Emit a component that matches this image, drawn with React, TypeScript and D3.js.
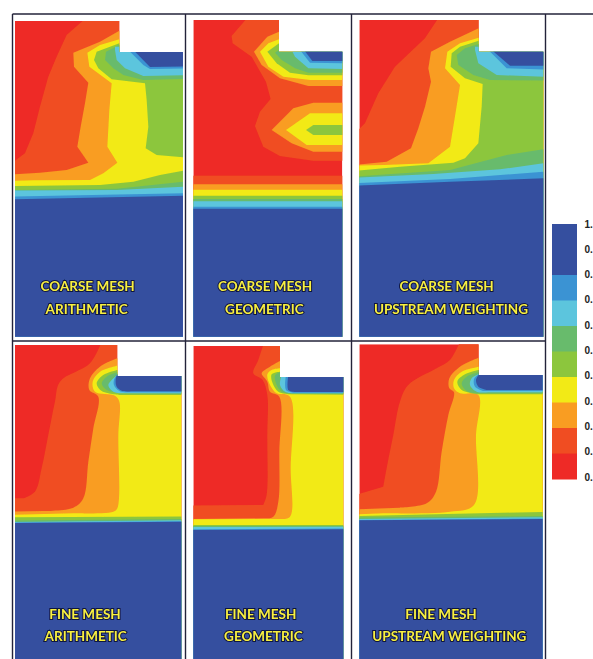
import React from "react";
import * as d3lib from "d3";

type Pt = [number, number];
type Region = [number, Pt[]];

// colour bands, from value 0.0 (red) to 1.0 (deep blue)
const bandColors = ["#ee2c25", "#f04e24", "#f99d20", "#f2ea14", "#8cc63e", "#68bb6c", "#5cc5dd", "#3b93d3", "#35509f"];
const legendValues = ["1.", "0.", "0.", "0.", "0.", "0.", "0.", "0.", "0.", "0.", "0."];
const legendBandIndex = [8, 8, 7, 6, 5, 4, 3, 2, 1, 0];

// Contour regions per panel (band index, boundary in grid units of 1/3 px)
const coarseArithmetic: Region[] = [
  [1, [[248, 63], [200, 105], [170, 170], [145, 230], [120, 320], [100, 400], [75, 460], [45, 482], [20, 482], [20, 1030], [620, 1030], [620, 63]]],
  [2, [[358, 92], [300, 125], [220, 158], [222, 200], [265, 248], [255, 310], [242, 380], [232, 440], [265, 488], [200, 510], [120, 518], [45, 523], [20, 523], [20, 1030], [620, 1030], [620, 92]]],
  [3, [[358, 118], [300, 135], [262, 158], [268, 200], [335, 250], [328, 330], [322, 440], [352, 488], [310, 520], [270, 540], [100, 541], [20, 543], [20, 1030], [620, 1030], [620, 118]]],
  [4, [[358, 130], [290, 155], [282, 180], [295, 205], [335, 238], [435, 250], [440, 300], [445, 380], [437, 445], [470, 465], [549, 472], [620, 472], [620, 130]]],
  [4, [[20, 558], [300, 555], [400, 545], [480, 525], [549, 512], [620, 512], [620, 1030], [20, 1030]]],
  [5, [[358, 135], [318, 155], [315, 180], [340, 205], [370, 225], [430, 240], [620, 235], [620, 135]]],
  [5, [[20, 570], [350, 566], [549, 545], [620, 545], [620, 1030], [20, 1030]]],
  [6, [[345, 150], [350, 180], [375, 205], [430, 228], [620, 225], [620, 140], [345, 140]]],
  [6, [[20, 572], [350, 570], [549, 560], [620, 560], [620, 1030], [20, 1030]]],
  [7, [[385, 150], [430, 195], [450, 207], [620, 205], [620, 140], [385, 140]]],
  [7, [[20, 590], [549, 580], [620, 580], [620, 1030], [20, 1030]]],
  [8, [[400, 150], [450, 201], [620, 198], [620, 140], [400, 140]]],
  [8, [[20, 598], [549, 587], [620, 587], [620, 1030], [20, 1030]]],
];

const coarseGeometric: Region[] = [
  [1, [[205, 50], [155, 108], [158, 130], [215, 170], [258, 245], [272, 297], [240, 335], [225, 378], [250, 440], [300, 468], [400, 482], [520, 482], [520, 50]]],
  [1, [[20, 527], [520, 527], [520, 1030], [20, 1030]]],
  [2, [[297, 95], [262, 110], [222, 155], [245, 195], [300, 235], [385, 258], [520, 258], [520, 95]]],
  [2, [[520, 308], [400, 308], [340, 325], [275, 390], [335, 430], [400, 455], [520, 455]]],
  [2, [[20, 553], [520, 553], [520, 1030], [20, 1030]]],
  [3, [[297, 118], [265, 130], [240, 155], [265, 200], [310, 230], [390, 240], [520, 240], [520, 118]]],
  [3, [[520, 340], [390, 340], [318, 390], [380, 435], [520, 435]]],
  [3, [[20, 569], [520, 569], [520, 1030], [20, 1030]]],
  [4, [[297, 130], [262, 155], [290, 190], [330, 218], [385, 226], [520, 226], [520, 130]]],
  [4, [[520, 375], [400, 375], [378, 390], [400, 405], [520, 405]]],
  [4, [[20, 587], [520, 587], [520, 1030], [20, 1030]]],
  [5, [[297, 150], [285, 158], [305, 180], [345, 205], [385, 218], [520, 218], [520, 150]]],
  [5, [[20, 597], [520, 597], [520, 1030], [20, 1030]]],
  [6, [[335, 150], [345, 170], [385, 205], [520, 208], [520, 140], [335, 140]]],
  [6, [[20, 604], [520, 604], [520, 1030], [20, 1030]]],
  [7, [[360, 150], [390, 188], [520, 190], [520, 140], [360, 140]]],
  [7, [[20, 620], [520, 620], [520, 1030], [20, 1030]]],
  [8, [[372, 150], [397, 183], [520, 183], [520, 140], [372, 140]]],
  [8, [[20, 626], [520, 626], [520, 1030], [20, 1030]]],
];

const coarseUpstream: Region[] = [
  [1, [[268, 50], [225, 115], [135, 200], [85, 280], [45, 370], [10, 405], [10, 1030], [620, 1030], [620, 50]]],
  [2, [[386, 85], [300, 125], [243, 155], [235, 205], [243, 245], [225, 320], [205, 385], [183, 445], [110, 485], [10, 495], [10, 1030], [620, 1030], [620, 85]]],
  [3, [[386, 113], [330, 130], [292, 155], [285, 205], [330, 255], [318, 330], [300, 440], [235, 490], [100, 495], [10, 497], [10, 1030], [620, 1030], [620, 113]]],
  [4, [[386, 122], [330, 140], [305, 160], [302, 200], [345, 235], [398, 252], [395, 320], [385, 430], [345, 475], [310, 488], [150, 500], [10, 513], [10, 1030], [620, 1030], [620, 122]]],
  [5, [[386, 132], [345, 145], [320, 165], [325, 195], [370, 225], [420, 240], [620, 242], [620, 132]]],
  [5, [[10, 530], [300, 510], [470, 465], [580, 448], [620, 445], [620, 1030], [10, 1030]]],
  [6, [[375, 150], [385, 190], [440, 225], [620, 232], [620, 140], [375, 140]]],
  [6, [[10, 533], [250, 522], [450, 508], [580, 490], [620, 488], [620, 1030], [10, 1030]]],
  [7, [[415, 150], [470, 205], [620, 210], [620, 140], [415, 140]]],
  [7, [[10, 550], [300, 537], [580, 515], [620, 513], [620, 1030], [10, 1030]]],
  [8, [[425, 150], [480, 197], [620, 197], [620, 140], [425, 140]]],
  [8, [[10, 557], [300, 545], [580, 535], [620, 533], [620, 1030], [10, 1030]]],
];

const fineArithmetic: Region[] = [
  [1, [[305, 20], [270, 85], [180, 140], [165, 200], [145, 300], [125, 400], [105, 470], [70, 490], [20, 490], [20, 1030], [620, 1030], [620, 20]]],
  [2, [[352, 70], [300, 95], [270, 130], [268, 165], [295, 185], [280, 280], [265, 380], [250, 490], [220, 518], [130, 528], [20, 530], [20, 1030], [620, 1030], [620, 70]]],
  [3, [[352, 92], [300, 110], [278, 140], [285, 170], [345, 182], [358, 200], [355, 300], [352, 520], [340, 530], [220, 535], [20, 540], [20, 1030], [620, 1030], [620, 92]]],
  [4, [[352, 105], [310, 120], [290, 145], [305, 168], [360, 180], [620, 180], [620, 105]]],
  [4, [[20, 547], [350, 546], [620, 544], [620, 1030], [20, 1030]]],
  [5, [[352, 112], [320, 125], [305, 145], [320, 165], [370, 175], [620, 178], [620, 112]]],
  [5, [[20, 557], [620, 551], [620, 1030], [20, 1030]]],
  [6, [[352, 120], [335, 135], [325, 150], [340, 170], [380, 175], [620, 175], [620, 120]]],
  [6, [[20, 561], [620, 555], [620, 1030], [20, 1030]]],
  [7, [[352, 118], [342, 135], [342, 150], [358, 168], [400, 172], [620, 172], [620, 118]]],
  [7, [[20, 563], [620, 558], [620, 1030], [20, 1030]]],
  [8, [[352, 118], [347, 135], [350, 155], [365, 167], [400, 169], [620, 169], [620, 118]]],
  [8, [[20, 564], [620, 560], [620, 1030], [20, 1030]]],
];

const fineGeometric: Region[] = [
  [1, [[253, 20], [235, 75], [220, 115], [248, 135], [262, 180], [262, 300], [260, 480], [250, 510], [20, 512], [20, 1030], [620, 1030], [620, 20]]],
  [2, [[300, 78], [270, 95], [245, 115], [262, 140], [270, 170], [298, 185], [298, 350], [295, 500], [280, 545], [250, 550], [20, 552], [20, 1030], [620, 1030], [620, 78]]],
  [3, [[300, 100], [275, 105], [262, 118], [270, 150], [290, 175], [330, 185], [332, 400], [330, 545], [300, 552], [20, 553], [20, 1030], [620, 1030], [620, 100]]],
  [4, [[300, 110], [275, 118], [278, 145], [295, 170], [330, 178], [620, 180], [620, 110]]],
  [4, [[20, 570], [330, 571], [620, 570], [620, 1030], [20, 1030]]],
  [5, [[300, 112], [285, 122], [290, 150], [305, 170], [340, 176], [620, 178], [620, 112]]],
  [5, [[20, 573], [620, 573], [620, 1030], [20, 1030]]],
  [6, [[305, 120], [300, 150], [315, 170], [340, 175], [620, 175], [620, 120]]],
  [6, [[20, 576], [335, 575], [620, 575], [620, 1030], [20, 1030]]],
  [7, [[318, 120], [318, 165], [340, 173], [620, 173], [620, 120]]],
  [7, [[20, 583], [330, 582], [620, 580], [620, 1030], [20, 1030]]],
  [8, [[325, 120], [325, 165], [345, 171], [620, 171], [620, 120], [325, 120]]],
  [8, [[20, 585], [330, 584], [620, 582], [620, 1030], [20, 1030]]],
];

const fineUpstream: Region[] = [
  [1, [[330, 20], [300, 75], [260, 100], [175, 150], [150, 200], [130, 300], [110, 400], [100, 455], [10, 482], [10, 1030], [620, 1030], [620, 20]]],
  [2, [[386, 68], [330, 95], [298, 130], [298, 160], [312, 172], [295, 240], [275, 350], [258, 470], [230, 505], [150, 518], [10, 523], [10, 1030], [620, 1030], [620, 68]]],
  [3, [[386, 95], [335, 110], [312, 135], [312, 160], [330, 175], [385, 180], [378, 300], [372, 510], [300, 530], [100, 535], [10, 538], [10, 1030], [620, 1030], [620, 95]]],
  [4, [[386, 105], [345, 118], [322, 140], [335, 165], [385, 178], [620, 178], [620, 105]]],
  [4, [[10, 543], [300, 538], [620, 530], [620, 1030], [10, 1030]]],
  [5, [[386, 112], [350, 125], [335, 145], [350, 168], [390, 175], [620, 175], [620, 112]]],
  [5, [[10, 548], [300, 546], [620, 543], [620, 1030], [10, 1030]]],
  [6, [[386, 118], [365, 130], [360, 150], [380, 170], [420, 172], [620, 172], [620, 118]]],
  [6, [[10, 552], [620, 546], [620, 1030], [10, 1030]]],
  [7, [[386, 118], [372, 133], [375, 155], [400, 168], [620, 168], [620, 118]]],
  [7, [[10, 555], [620, 550], [620, 1030], [10, 1030]]],
  [8, [[386, 120], [378, 135], [385, 155], [410, 165], [620, 165], [620, 105], [386, 105]]],
  [8, [[10, 556], [620, 552], [620, 1030], [10, 1030]]],
];

const panelNames = ["COARSE MESH", "COARSE MESH", "COARSE MESH", "FINE MESH", "FINE MESH", "FINE MESH"];
const schemeNames = ["ARITHMETIC", "GEOMETRIC", "UPSTREAM WEIGHTING", "ARITHMETIC", "GEOMETRIC", "UPSTREAM WEIGHTING"];
const panelRegions = [coarseArithmetic, coarseGeometric, coarseUpstream, fineArithmetic, fineGeometric, fineUpstream];

// crop origin of each panel's grid, in pixels
const gridOriginX = [0, 180, 350, 0, 180, 350];
const gridOriginY = [0, 0, 0, 335, 335, 335];
// outline of the domain in grid units
const domainLeft = [45, 40, 28, 45, 40, 28];
const domainRight = [549, 487, 580, 544, 490, 578];
const domainTop = [63, 60, 60, 30, 33, 28];
const domainBottom = [1010, 1010, 1010, 1030, 1030, 1030];
const notchX = [358, 297, 386, 352, 300, 386];
const notchY = [156, 155, 155, 123, 126, 120];
// label centres in grid units
const nameX = [263, 255, 290, 255, 242, 273];
const schemeX = [260, 253, 303, 257, 250, 298];
const nameY = [858, 858, 858, 837, 837, 837];
const schemeY = [927, 927, 927, 902, 902, 902];

const frameX = [12.5, 185.5, 351.5, 545.5];
const frameY = [14, 341];

const legendLeft = 552;
const legendRight = 577;
const legendTop = 224;
const legendBottom = 479;

const isClosure = ([a, b]: Pt) => a <= 20 || a >= 620 || b >= 1030;

export default function App() {
  const polyLine = d3lib.line<Pt>();
  const smoothLine = d3lib.line<Pt>().curve(d3lib.curveCatmullRom.alpha(0.5));
  const legendY = d3lib.scaleLinear().domain([1, 0]).range([legendTop, legendBottom]);
  return (
    <svg width={593} height={659} style={{ position: "absolute", left: 0, top: 0, background: "#fff" }}>
      <defs>
        <filter id="soft" x="-5%" y="-5%" width="110%" height="110%">
          <feGaussianBlur stdDeviation="0.7" />
        </filter>
        <filter id="softText" x="-10%" y="-30%" width="120%" height="160%">
          <feGaussianBlur stdDeviation="0.3" />
        </filter>
      </defs>
      {panelRegions.map((regions, i) => {
        const x = d3lib.scaleLinear().domain([0, 3]).range([gridOriginX[i], gridOriginX[i] + 1]);
        const y = d3lib.scaleLinear().domain([0, 3]).range([gridOriginY[i], gridOriginY[i] + 1]);
        const outline: Pt[] = [
          [domainLeft[i], domainTop[i]],
          [notchX[i], domainTop[i]],
          [notchX[i], notchY[i]],
          [domainRight[i], notchY[i]],
          [domainRight[i], domainBottom[i]],
          [domainLeft[i], domainBottom[i]],
        ];
        const toPx = (pts: Pt[]) => pts.map(([a, b]) => [x(a), y(b)] as Pt);
        const sharp = (pts: Pt[]) => polyLine(toPx(pts)) + "Z";
        // smooth the contour stretch only; the closing points stay straight
        const contour = (pts: Pt[]) => {
          if (i < 3) return sharp(pts);
          let d = "";
          let run: Pt[] = [];
          const flush = () => {
            if (run.length) {
              const s = smoothLine(toPx(run)) ?? "";
              d += d ? "L" + s.slice(1) : s;
              run = [];
            }
          };
          pts.forEach((p) => {
            if (isClosure(p)) {
              flush();
              const [px, py] = toPx([p])[0];
              d += `${d ? "L" : "M"}${px},${py}`;
            } else {
              run.push(p);
            }
          });
          flush();
          return d + "Z";
        };
        return (
          <g key={i}>
            <clipPath id={`clip${i}`}>
              <path d={sharp(outline)} />
            </clipPath>
            <g filter="url(#soft)">
              <g clipPath={`url(#clip${i})`}>
                <path d={sharp(outline)} fill={bandColors[0]} />
                {regions.map(([band, pts], k) => (
                  <path key={k} d={contour(pts)} fill={bandColors[band]} />
                ))}
              </g>
            </g>
            <g
              filter="url(#softText)"
              fontFamily="Lato, sans-serif"
              fontWeight={700}
              fontSize={13.5}
              fill="#f8f040"
              stroke="#10153f"
              strokeWidth={2}
              paintOrder="stroke"
              textAnchor="middle"
              dominantBaseline="central"
            >
              <text x={x(nameX[i])} y={y(nameY[i])}>{panelNames[i]}</text>
              <text x={x(schemeX[i])} y={y(schemeY[i])}>{schemeNames[i]}</text>
            </g>
          </g>
        );
      })}
      <g stroke="#23233a" strokeWidth={1.4}>
        <line x1={frameX[0]} x2={593} y1={frameY[0]} y2={frameY[0]} />
        <line x1={frameX[0]} x2={frameX[3]} y1={frameY[1]} y2={frameY[1]} />
        {frameX.map((fx) => (
          <line key={fx} x1={fx} x2={fx} y1={frameY[0]} y2={659} />
        ))}
      </g>
      <g filter="url(#soft)">
        {legendBandIndex.map((band, i) => (
          <rect
            key={i}
            x={legendLeft}
            width={legendRight - legendLeft}
            y={legendY(1 - i / 10)}
            height={legendY(1 - (i + 1) / 10) - legendY(1 - i / 10) + 0.5}
            fill={bandColors[band]}
          />
        ))}
      </g>
      <g fontFamily="Liberation Sans, sans-serif" fontSize={10} fontWeight={700} fill="#222" dominantBaseline="central">
        {legendValues.map((v, i) => (
          <text key={i} x={584.4} y={legendY(1 - i / 10) - i * 0.2}>{v}</text>
        ))}
      </g>
    </svg>
  );
}
